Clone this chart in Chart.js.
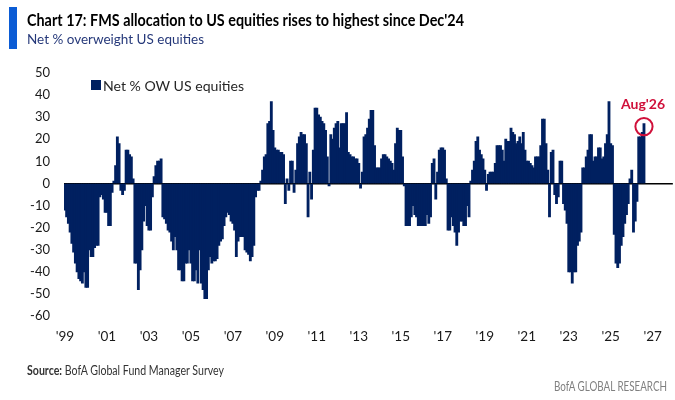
<!DOCTYPE html>
<html>
<head>
<meta charset="utf-8">
<script src="https://cdn.jsdelivr.net/npm/chart.js@4.4.1/dist/chart.umd.min.js"></script>
<style>
html,body{margin:0;padding:0;background:#fff;}
body{width:675px;height:400px;position:relative;overflow:hidden;font-family:Lato,"Open Sans",sans-serif;}
#cv{position:absolute;left:0;top:0;}
.t{position:absolute;white-space:nowrap;transform-origin:0 50%;line-height:1.2;}
#bar{position:absolute;left:9px;top:7px;width:8px;height:42px;background:#0B5CD5;}
#title{left:27px;top:10px;font-size:17px;font-weight:700;color:#000;}
#sub{left:27px;top:30.5px;font-size:14px;color:#26397A;}
#legsq{position:absolute;left:91px;top:80px;width:10px;height:10px;background:#002060;}
#legtx{left:103px;top:77.5px;font-size:13.5px;color:#262626;}
#src{left:27px;top:362.5px;font-size:12.5px;color:#333;}
#foot{left:554px;top:379px;font-size:12.5px;color:#808080;}
</style>
</head>
<body>
<canvas id="cv" width="675" height="400"></canvas>
<div id="bar"></div>
<div class="t" id="title" data-w="437">Chart 17: FMS allocation to US equities rises to highest since Dec'24</div>
<div class="t" id="sub" data-w="177">Net % overweight US equities</div>
<div id="legsq"></div>
<div class="t" id="legtx" data-w="141">Net % OW US equities</div>
<div class="t" id="src" data-w="197"><b>Source:</b> BofA Global Fund Manager Survey</div>
<div class="t" id="foot" data-w="113">BofA GLOBAL RESEARCH</div>
<script>
// ---- data (monthly, Jan 1999 .. Aug 2026) ----
const seriesName = "Net % OW US equities";
const netOW = [
  -12,-15,-18,-22,-27,-31,-36,-40,-43,-44,
  -45,-40,-47,-47,-30,-33,-33,-29,-28,-28,
  -6,-5,-7,-13,-13,-19,-19,-4,1,8,
  21,18,-3,-5,-3,15,15,13,12,2,
  -36,-36,-48,-39,-30,-17,-10,-19,-21,-21,
  -6,3,8,10,10,11,-15,-16,-18,-21,
  -22,-26,-30,-24,-30,-39,-39,-44,-44,-36,
  -36,-30,-36,-44,-44,-39,-45,-30,-45,-48,
  -52,-52,-39,-33,-36,-35,-35,-34,-28,-26,
  -25,-19,-15,-13,-14,-17,-18,-21,-33,-26,
  -24,-24,-24,-30,-31,-32,-35,-33,-28,-6,
  -3,-3,1,6,12,13,27,28,37,24,
  16,15,15,14,14,13,-9,2,-3,10,
  10,-4,6,18,21,23,22,22,18,-15,
  5,-7,15,34,34,31,30,28,27,24,
  12,-1,22,20,25,27,28,16,27,27,
  27,32,14,13,12,12,11,11,9,-2,
  5,21,22,25,29,33,33,17,7,7,
  7,11,13,13,12,11,10,9,6,18,
  25,24,24,12,-1,-19,-19,-19,-15,-10,
  -14,-15,-19,-19,-19,-19,-19,-14,-18,-15,
  9,11,-7,5,15,16,16,15,2,-21,
  -21,-15,-19,-22,-28,-22,-17,-17,-19,-19,
  -10,-15,1,6,10,19,21,15,13,11,
  6,-3,4,5,5,5,9,17,17,17,
  15,10,20,19,19,25,23,22,18,19,
  21,18,23,15,10,10,9,8,7,12,
  12,12,17,29,29,18,6,-15,14,15,
  -5,-9,-6,10,10,-9,-12,-18,-40,-40,
  -45,-40,-40,-28,-26,-22,7,7,12,15,
  22,22,10,12,12,16,16,11,12,18,
  22,37,18,17,-23,-36,-38,-36,-28,-24,
  -18,-14,-9,2,6,-22,-17,-8,21,21,
  23,27
];
const firstYear = 1999, lastYear = 2027;
const xTickLabels = ["'99","'01","'03","'05","'07","'09","'11","'13","'15","'17","'19","'21","'23","'25","'27"];
const yTicks = [50,40,30,20,10,0,-10,-20,-30,-40,-50,-60];
const highlightLabel = "Aug'26";

// month categories for the whole axis span
const months = [];
for (let y = firstYear; y <= lastYear; y++) for (let m = 1; m <= 12; m++) months.push(y + "-" + String(m).padStart(2, "0"));
const values = months.map((_, i) => i < netOW.length ? netOW[i] : null);
const highlightIndex = netOW.length - 1;

const navy = "#002060", red = "#D0103A";

const highlightPlugin = {
  id: "highlight",
  afterDatasetsDraw(chart) {
    const el = chart.getDatasetMeta(0).data[highlightIndex];
    const ys = chart.scales.y;
    const x = el.x, top = ys.getPixelForValue(netOW[highlightIndex]);
    const ctx = chart.ctx;
    ctx.save();
    ctx.strokeStyle = red; ctx.lineWidth = 2;
    ctx.beginPath(); ctx.arc(x, top + 2.8, 8.6, 0, Math.PI * 2); ctx.stroke();
    ctx.fillStyle = red; ctx.font = "700 14px Lato, 'Open Sans', sans-serif";
    ctx.textAlign = "center"; ctx.textBaseline = "alphabetic";
    ctx.fillText(highlightLabel, x - 1, top - 14.6);
    ctx.restore();
  }
};

new Chart(document.getElementById("cv"), {
  type: "bar",
  data: { labels: months, datasets: [{ label: seriesName, data: values, backgroundColor: navy, borderWidth: 0, barPercentage: 1, categoryPercentage: 1, inflateAmount: 0.55 }] },
  options: {
    responsive: false, animation: false, devicePixelRatio: 1,
    layout: { padding: { top: 73, right: 2, bottom: 54, left: 0 } },
    plugins: { legend: { display: false }, tooltip: { enabled: false }, title: { display: false } },
    scales: {
      x: {
        type: "category", offset: true,
        grid: { display: false, drawTicks: false }, border: { display: false },
        ticks: {
          autoSkip: false, maxRotation: 0, minRotation: 0, padding: 13,
          color: "#1a1a1a", font: { family: "Lato, 'Open Sans', sans-serif", size: 13.5 },
          callback: (v, i) => {
            const yr = firstYear + Math.floor(i / 12), mo = i % 12;
            if (mo !== 0 || (yr - firstYear) % 2 !== 0) return null;
            return xTickLabels[(yr - firstYear) / 2];
          }
        },
        afterFit: s => { s.height = 30; }
      },
      y: {
        min: yTicks[yTicks.length - 1], max: yTicks[0], z: 1,
        afterBuildTicks: s => { s.ticks = yTicks.map(v => ({ value: v })); },
        grid: { drawTicks: false, lineWidth: 1.5, color: c => c.tick && c.tick.value === 0 ? "#000" : "rgba(0,0,0,0)" },
        border: { display: false },
        ticks: { padding: 14, color: "#1a1a1a", font: { family: "Lato, 'Open Sans', sans-serif", size: 13 } },
        afterFit: s => { s.width = 64; }
      }
    }
  },
  plugins: [highlightPlugin]
});

function fit() {
  document.querySelectorAll("[data-w]").forEach(el => {
    el.style.transform = "none";
    const w = el.getBoundingClientRect().width;
    el.style.transform = "scaleX(" + (+el.dataset.w / w) + ")";
  });
}
fit();
if (document.fonts) document.fonts.ready.then(fit);
</script>
</body>
</html>
